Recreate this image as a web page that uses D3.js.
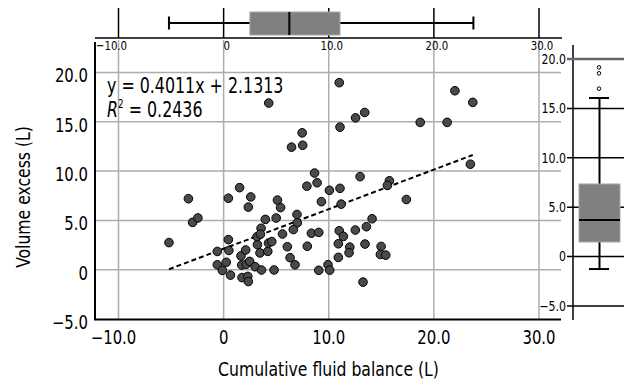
<!DOCTYPE html>
<html>
<head>
<meta charset="utf-8">
<script src="https://cdn.jsdelivr.net/npm/d3@7"></script>
<style>
  body { margin: 0; background: #fff; }
  svg { display: block; font-family: "DejaVu Sans Condensed", "DejaVu Sans", sans-serif; font-stretch: condensed; }
</style>
</head>
<body>
<div id="chart"></div>
<script>
// cumulative fluid balance (L) vs volume excess (L)
var fluidBalance = [
  -5.2, -3.35, -2.95, -2.45, -0.6, -0.6, -0.12, 0.25, 0.65, 0.45,
  0.5, 0.45, 1.52, 1.65, 1.72, 2.15, 2.1, 1.75, 2.3, 2.35,
  2.48, 3.0, 3.6, 4.8, 2.35, 2.58, 3.22, 3.46, 3.18, 3.56,
  3.5, 3.97, 5.0, 4.2, 4.27, 4.58, 5.12, 5.42, 5.6, 6.06,
  6.32, 6.79, 6.98, 7.01, 6.63, 7.96, 8.35, 9.05, 9.05, 4.29,
  7.47, 7.52, 6.46, 8.65, 7.92, 8.89, 9.3, 10.06, 11.07, 11.18,
  12.98, 15.77, 15.58, 17.38, 23.47, 11.0, 22.0, 23.7, 12.55, 13.42,
  11.07, 18.7, 21.26, 14.12, 13.58, 12.53, 11.0, 11.39, 10.91, 12.0,
  11.93, 13.45, 14.98, 14.91, 15.42, 10.91, 9.93, 10.09, 13.26
];
var volumeExcess = [
  2.75, 7.2, 4.8, 5.25, 1.85, 0.5, -0.07, 0.75, -0.55, 3.05,
  1.95, 7.25, 8.32, 1.4, 0.47, 0.55, 2.0, -0.8, -0.68, -1.2,
  0.84, 0.3, -0.03, -0.03, 6.35, 7.38, 2.54, 1.7, 3.35, 4.2,
  3.6, 5.1, 5.24, 1.86, 2.7, 2.85, 7.06, 6.3, 3.62, 2.33,
  1.22, 0.5, 5.6, 4.75, 4.07, 2.38, 3.7, 3.78, -0.06, 16.9,
  13.88, 12.62, 12.43, 9.8, 8.47, 8.82, 6.9, 8.05, 8.25, 6.65,
  9.44, 9.02, 8.55, 7.12, 10.7, 18.97, 18.15, 16.97, 15.4, 15.95,
  14.46, 14.94, 14.94, 5.17, 4.36, 4.02, 3.95, 3.38, 2.63, 2.29,
  1.72, 2.6, 2.36, 1.55, 1.48, 1.25, 0.51, -0.04, -1.26
];

var xTicks = [-10, 0, 10, 20, 30];
var yTicks = [-5, 0, 5, 10, 15, 20];

// box plot summaries: [low whisker, q1, median, q3, high whisker]
var xBox = [-5.2, 2.5, 6.25, 11.07, 23.76];
var yBox = [-1.26, 1.48, 3.7, 7.35, 16.05];
var yOutliers = [19.15, 18.55, 17.0];

var regSlope = 0.4011, regIntercept = 2.1313, rSquared = 0.2436;

var W = 624, H = 385;
var svg = d3.select("#chart").append("svg").attr("width", W).attr("height", H);

var x = d3.scaleLinear().domain([-10, 30]).range([118.5, 539]);
var y = d3.scaleLinear().domain([-5, 20]).range([319, 72.5]);
var yr = d3.scaleLinear().domain([-5, 20]).range([306, 59]);

function fmt(v) { return v === 0 ? "0" : d3.format(".1f")(v); }

// the original uses a condensed face, squeeze text horizontally
var SX = 0.87;
function place(tx, ty, sx) { return "translate(" + tx + "," + ty + ") scale(" + (sx || SX) + ",1)"; }

var grid = "#adadad";

// main grid
svg.selectAll(".vgrid").data(xTicks).enter().append("line")
  .attr("x1", d => x(d)).attr("x2", d => x(d))
  .attr("y1", 40).attr("y2", 319)
  .attr("stroke", grid).attr("stroke-width", 1.5);
svg.selectAll(".hgrid").data(yTicks.filter(d => d > -5)).enter().append("line")
  .attr("x1", 95).attr("x2", 561)
  .attr("y1", d => y(d)).attr("y2", d => y(d))
  .attr("stroke", grid).attr("stroke-width", 1.5);

// main axes
svg.append("line").attr("x1", 95).attr("x2", 95).attr("y1", 42).attr("y2", 320)
  .attr("stroke", "#000").attr("stroke-width", 2);
svg.append("line").attr("x1", 94).attr("x2", 561).attr("y1", 319.5).attr("y2", 319.5)
  .attr("stroke", "#000").attr("stroke-width", 2);

svg.selectAll(".xlab").data(xTicks).enter().append("text")
  .attr("transform", d => place(x(d) + (d < 0 ? -5 : 0), 344))
  .attr("text-anchor", "middle").attr("font-size", 19)
  .text(fmt);
svg.selectAll(".ylab").data(yTicks).enter().append("text")
  .attr("transform", d => place(88, y(d) + 3))
  .attr("dominant-baseline", "central")
  .attr("text-anchor", "end").attr("font-size", 19)
  .text(fmt);

svg.append("text").attr("transform", place(328.5, 376))
  .attr("text-anchor", "middle").attr("font-size", 20)
  .text("Cumulative fluid balance (L)");
svg.append("text").attr("transform", "translate(30,197) rotate(-90) scale(" + SX + ",1)")
  .attr("text-anchor", "middle").attr("font-size", 20)
  .text("Volume excess (L)");

// regression line
var xr = d3.extent(fluidBalance);
svg.append("line")
  .attr("x1", x(xr[0])).attr("y1", y(regSlope * xr[0] + regIntercept))
  .attr("x2", x(xr[1])).attr("y2", y(regSlope * xr[1] + regIntercept))
  .attr("stroke", "#000").attr("stroke-width", 2).attr("stroke-dasharray", "5,3");

// points
var pts = fluidBalance.map((v, i) => ({x: v, y: volumeExcess[i]}));
svg.selectAll("circle.pt").data(pts).enter().append("circle")
  .attr("class", "pt")
  .attr("cx", d => x(d.x)).attr("cy", d => y(d.y)).attr("r", 4.3)
  .attr("fill", "#4a4a4a").attr("stroke", "#000").attr("stroke-width", 1);

// equation
svg.append("text").attr("transform", place(107, 93, 0.82)).attr("font-size", 21.5)
  .text("y = " + regSlope + "x + " + regIntercept);
var r2 = svg.append("text").attr("transform", place(107, 117, 0.82)).attr("font-size", 21.5);
r2.append("tspan").attr("font-style", "italic").text("R");
r2.append("tspan").attr("font-size", 12).attr("dy", -9).text("2");
r2.append("tspan").attr("dy", 9).text(" = " + rSquared);

// top box plot
svg.append("line").attr("x1", 95).attr("x2", 562).attr("y1", 38).attr("y2", 38)
  .attr("stroke", "#000").attr("stroke-width", 1.5);
svg.selectAll(".ttick").data(xTicks).enter().append("line")
  .attr("x1", d => x(d)).attr("x2", d => x(d)).attr("y1", 8).attr("y2", 38)
  .attr("stroke", "#000").attr("stroke-width", 1.5);
svg.selectAll(".tlab").data(xTicks).enter().append("text")
  .attr("transform", d => place(x(d) + (d < 0 ? -7 : 3), 50))
  .attr("text-anchor", "middle").attr("font-size", 13)
  .text(fmt);
svg.append("line").attr("x1", x(xBox[0])).attr("x2", x(xBox[4])).attr("y1", 23).attr("y2", 23)
  .attr("stroke", "#000").attr("stroke-width", 2);
[xBox[0], xBox[4]].forEach(function(v) {
  svg.append("line").attr("x1", x(v)).attr("x2", x(v)).attr("y1", 16.5).attr("y2", 29.5)
    .attr("stroke", "#000").attr("stroke-width", 2);
});
svg.append("rect").attr("x", x(xBox[1])).attr("width", x(xBox[3]) - x(xBox[1]))
  .attr("y", 12).attr("height", 23)
  .attr("fill", "#808080").attr("stroke", "#a6a6a6").attr("stroke-width", 1);
svg.append("line").attr("x1", x(xBox[2])).attr("x2", x(xBox[2])).attr("y1", 12).attr("y2", 35)
  .attr("stroke", "#000").attr("stroke-width", 2);

// right box plot
svg.append("line").attr("x1", 573).attr("x2", 573).attr("y1", 45).attr("y2", 320)
  .attr("stroke", "#000").attr("stroke-width", 1.5);
svg.selectAll(".rtick").data(yTicks).enter().append("line")
  .attr("x1", 567).attr("x2", 624).attr("y1", d => yr(d)).attr("y2", d => yr(d))
  .attr("stroke", d => d === 20 ? "#666" : "#000").attr("stroke-width", d => d === 20 ? 2.5 : 1.5);
svg.selectAll(".rlab").data(yTicks).enter().append("text")
  .attr("transform", d => place(566, yr(d)))
  .attr("dominant-baseline", "central")
  .attr("text-anchor", "end").attr("font-size", 14)
  .text(fmt);
svg.append("line").attr("x1", 599.5).attr("x2", 599.5).attr("y1", yr(yBox[0])).attr("y2", yr(yBox[4]))
  .attr("stroke", "#000").attr("stroke-width", 2);
[yBox[0], yBox[4]].forEach(function(v) {
  svg.append("line").attr("x1", 589).attr("x2", 609).attr("y1", yr(v)).attr("y2", yr(v))
    .attr("stroke", "#000").attr("stroke-width", 2);
});
svg.append("rect").attr("x", 579).attr("width", 41)
  .attr("y", yr(yBox[3])).attr("height", yr(yBox[1]) - yr(yBox[3]))
  .attr("fill", "#808080").attr("stroke", "#a6a6a6").attr("stroke-width", 1);
svg.append("line").attr("x1", 579).attr("x2", 620).attr("y1", yr(yBox[2])).attr("y2", yr(yBox[2]))
  .attr("stroke", "#000").attr("stroke-width", 2);
svg.selectAll(".out").data(yOutliers).enter().append("circle")
  .attr("cx", 599).attr("cy", d => yr(d)).attr("r", 1.8)
  .attr("fill", "#fff").attr("stroke", "#000").attr("stroke-width", 1);
</script>
</body>
</html>
